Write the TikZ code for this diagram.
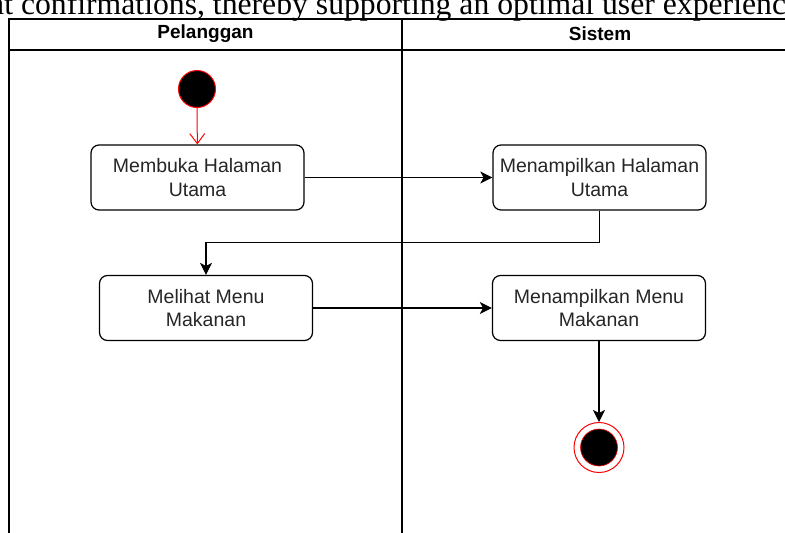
\documentclass[tikz,border=0pt]{standalone}
\usepackage{fontspec}
\setmainfont{Liberation Sans}
\newfontfamily\judulfont{Liberation Serif}
\usepackage{tikz}
\usetikzlibrary{arrows.meta}

\begin{document}
\begin{tikzpicture}[
    x=1pt, y=-1pt,
    lane/.style={draw, line width=1.2pt},
    laneTitle/.style={font=\bfseries\fontsize{19}{22}\selectfont},
    activity/.style={draw, line width=1.2pt, rounded corners=8pt,
        minimum width=213pt, minimum height=65pt, inner sep=0pt,
        align=center, text=black!85, font=\fontsize{19.5}{23.3}\selectfont},
    flow/.style={line width=1.2pt, -{Stealth[length=12pt,width=12pt,inset=3pt]}},
]
    \useasboundingbox (0,0) rectangle (785,533);
    \clip (0,0) rectangle (785,533);

    % 上方被截断的正文
    \node[anchor=base west, inner sep=0pt, font=\judulfont\fontsize{31.7}{36}\selectfont]
        (judul) at (-10,14) {at confirmations, thereby supporting an optimal user experience};

    % 泳道
    \draw[lane] (9,19) rectangle (798,560);
    \draw[lane] (9,50) -- (798,50);
    \draw[lane] (402,19) -- (402,560);
    \node[laneTitle] (pelanggan) at (205.5,33.5) {Pelanggan};
    \node[laneTitle] (sistem) at (600,33.5) {Sistem};

    % 开始
    \node[circle, fill=black, draw=red, line width=1pt, minimum size=37pt, inner sep=0pt] (mulai) at (197,89) {};

    % 活动
    \node[activity] (buka) at (197.5,177.5) {Membuka Halaman\\Utama};
    \node[activity] (tampilUtama) at (599.5,177.5) {Menampilkan Halaman\\Utama};
    \node[activity] (lihatMenu) at (206,308) {Melihat Menu\\Makanan};
    \node[activity] (tampilMenu) at (599,308) {Menampilkan Menu\\Makanan};

    % 结束
    \node[circle, draw=red, line width=1pt, minimum size=50pt, inner sep=0pt] (selesai) at (599,447.5) {};
    \node[circle, fill=black, draw=red, line width=0.6pt, minimum size=37pt, inner sep=0pt] (titikAkhir) at (selesai) {};

    % 连线
    \draw[red, line width=1pt, -{Straight Barb[length=10pt,width=15pt]}] (mulai) -- (buka);
    \draw[flow] (buka) -- (tampilUtama);
    \draw[flow] (tampilUtama.south) -- ++(0,32) -| (lihatMenu.north);
    \draw[flow] (lihatMenu) -- (tampilMenu);
    \draw[flow] (tampilMenu) -- (selesai);

\end{tikzpicture}
\end{document}
